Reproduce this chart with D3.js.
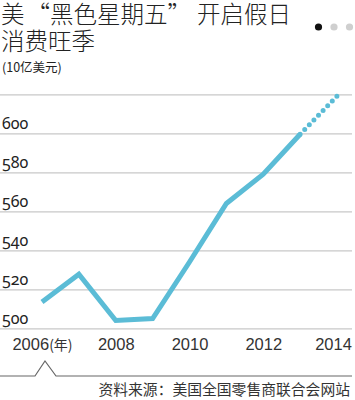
<!DOCTYPE html>
<html>
<head>
<meta charset="utf-8">
<script src="https://cdn.jsdelivr.net/npm/d3@7"></script>
<style>
  html, body { margin: 0; padding: 0; background: #fff; }
  svg { display: block; }
</style>
</head>
<body>
<svg id="chart" width="355" height="400"></svg>
<script>
const years = [2006, 2007, 2008, 2009, 2010, 2011, 2012, 2013];
const sales = [513.5, 527.7, 504, 505, 534, 564, 579, 599.5];
const forecastYears = [2013, 2014];
const forecastSales = [599.5, 619];
const yTicks = [500, 520, 540, 560, 580, 600, 620];
const yTickLabels = ["500", "520", "540", "560", "580", "600", ""];
const xTicks = [2006, 2008, 2010, 2012, 2014];
const xTickLabels = ["2006(年)", "2008", "2010", "2012", "2014"];
const titleLine1Parts = ["美", "“黑色星期五”", "开启假日"];
const titleLine2 = "消费旺季";
const unitLabel = "(10亿美元)";
const sourceLabel = "资料来源：美国全国零售商联合会网站";

const svg = d3.select("#chart");
const cjk = "'Noto Sans CJK SC', 'Noto Sans', sans-serif";
const lineColor = "#5bbcd6";

const x = d3.scaleLinear().domain([2006, 2014]).range([42, 337]);
const y = d3.scaleLinear().domain([500, 620]).range([328.3, 94.3]);

// Title
const t1 = svg.append("text").attr("x", 1).attr("y", 23)
  .attr("font-family", cjk).attr("font-size", 23.5).attr("font-weight", 300)
  .attr("fill", "#222");
t1.selectAll("tspan").data(titleLine1Parts).join("tspan")
  .attr("dx", (d, i) => [0, 2, 6][i]).text(d => d);
svg.append("text").attr("x", 1).attr("y", 50)
  .attr("font-family", cjk).attr("font-size", 23.5).attr("font-weight", 300)
  .attr("fill", "#222").text(titleLine2);
svg.append("text").attr("x", 2).attr("y", 72)
  .attr("font-family", cjk).attr("font-size", 12.5).attr("fill", "#222").text(unitLabel);

// Pager dots
svg.append("g").selectAll("circle").data([0, 1, 2]).join("circle")
  .attr("cx", d => 318.5 + d * 15.5).attr("cy", 27).attr("r", 3.6)
  .attr("fill", d => d === 0 ? "#111" : "#cfcfcf");

// Y axis gridlines & labels
const yAxis = d3.axisRight(y).tickValues(yTicks).tickSize(352)
  .tickFormat((d, i) => yTickLabels[i]);
const gy = svg.append("g").call(yAxis);
gy.select(".domain").remove();
gy.selectAll(".tick line").attr("stroke", "#c8c8c8").attr("stroke-width", 1.2);
gy.selectAll(".tick text").attr("x", 2).attr("dy", -5).attr("text-anchor", "start")
  .attr("font-family", "'Noto Sans', 'DejaVu Sans', sans-serif")
  .attr("font-size", 16).attr("fill", "#222")
  .style("font-variant-numeric", "oldstyle-nums");

// X axis labels
const xAxis = d3.axisBottom(x).tickValues(xTicks).tickSize(0)
  .tickFormat((d, i) => xTickLabels[i]);
const gx = svg.append("g").attr("transform", "translate(0,328)").call(xAxis);
gx.select(".domain").remove();
gx.selectAll(".tick text").attr("y", 22).attr("dy", 0)
  .attr("font-family", "'Liberation Sans', Arial, sans-serif")
  .attr("font-size", 16.5).attr("fill", "#333")
  .attr("transform", d => d === 2014 ? "translate(-4,0)" : null);
gx.selectAll(".tick text").filter(d => d === 2006).each(function() {
  const t = d3.select(this); t.text(null);
  t.append("tspan").text("2006");
  t.append("tspan").attr("font-family", cjk).attr("font-size", 14).text("(年)");
});

// Line
const line = d3.line().x(d => x(d[0])).y(d => y(d[1]));
svg.append("path").datum(years.map((d, i) => [d, sales[i]]))
  .attr("d", line).attr("fill", "none").attr("stroke", lineColor)
  .attr("stroke-width", 5).attr("stroke-linejoin", "miter");
svg.append("path").datum(forecastYears.map((d, i) => [d, forecastSales[i]]))
  .attr("d", line).attr("fill", "none").attr("stroke", lineColor)
  .attr("stroke-width", 5).attr("stroke-linecap", "round")
  .attr("stroke-dasharray", "0 6.6").attr("stroke-dashoffset", -6.6);

// Bottom caret line
const caretX = x(2006) + 3;
svg.append("path")
  .attr("d", `M0,376H${caretX - 10}L${caretX},361L${caretX + 11},376H352`)
  .attr("fill", "none").attr("stroke", "#666").attr("stroke-width", 1.2);

// Source
svg.append("text").attr("x", 350).attr("y", 395).attr("text-anchor", "end")
  .attr("font-family", cjk).attr("font-size", 14.8).attr("fill", "#333").text(sourceLabel);
</script>
</body>
</html>
